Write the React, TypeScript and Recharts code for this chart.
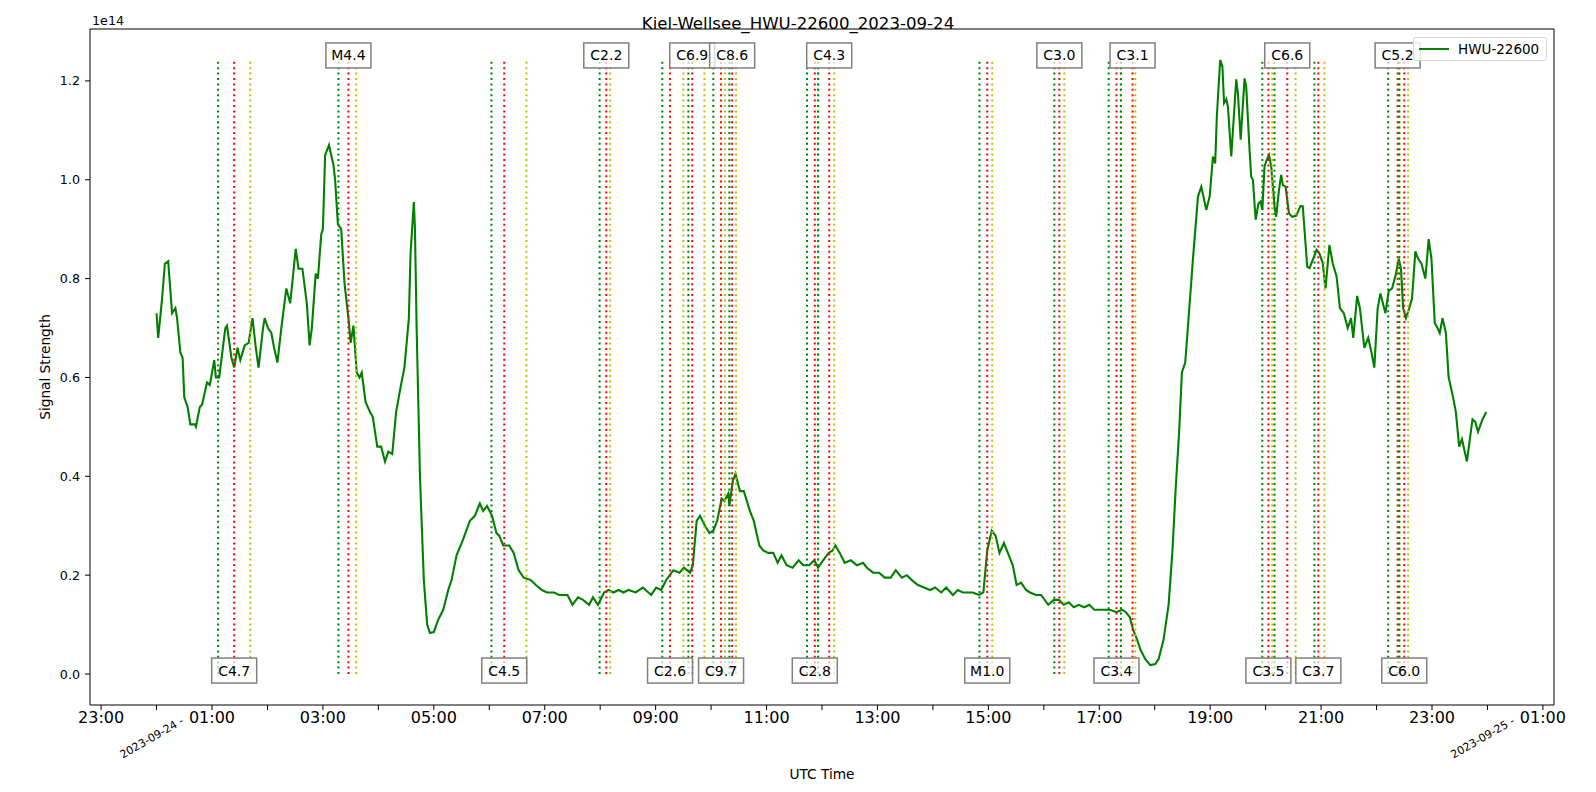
import React from 'react';
import { Legend, Line, LineChart, ReferenceDot, ReferenceLine, XAxis, YAxis } from 'recharts';

const FONT = '"DejaVu Sans", Verdana, sans-serif';
const CHART_W = 1596;
const CHART_H = 792;
const SCALE = 1e14;

// hours since 2023-09-24 00:00 UTC
const hours = [
  0.0, 0.03, 0.1, 0.15, 0.21, 0.28, 0.34, 0.37, 0.43, 0.47, 0.5, 0.56, 0.61, 0.69, 0.71, 0.78, 0.82, 0.91, 0.96,
  1.04, 1.07, 1.13, 1.24, 1.27, 1.35, 1.4, 1.46, 1.51, 1.59, 1.66, 1.73, 1.79, 1.84, 1.92, 1.95, 2.01, 2.07, 2.12,
  2.18, 2.25, 2.34, 2.41, 2.51, 2.56, 2.63, 2.71, 2.76, 2.8, 2.87, 2.91, 2.97, 3.0, 3.04, 3.11, 3.19, 3.22, 3.27,
  3.33, 3.39, 3.46, 3.5, 3.55, 3.61, 3.66, 3.7, 3.77, 3.85, 3.9, 3.98, 4.05, 4.12, 4.18, 4.25, 4.32, 4.4, 4.47,
  4.55, 4.58, 4.64, 4.66, 4.69, 4.75, 4.82, 4.88, 4.93, 5.0, 5.08, 5.17, 5.26, 5.32, 5.41, 5.52, 5.65, 5.74, 5.83,
  5.89, 5.96, 6.05, 6.13, 6.18, 6.25, 6.36, 6.44, 6.53, 6.62, 6.75, 6.84, 6.95, 7.04, 7.17, 7.26, 7.41, 7.5, 7.6,
  7.69, 7.8, 7.87, 7.96, 8.07, 8.15, 8.24, 8.33, 8.42, 8.51, 8.64, 8.77, 8.92, 9.01, 9.1, 9.19, 9.32, 9.43, 9.51,
  9.62, 9.67, 9.74, 9.8, 9.89, 9.97, 10.04, 10.11, 10.19, 10.24, 10.31, 10.33, 10.39, 10.44, 10.52, 10.59, 10.7,
  10.77, 10.87, 10.94, 11.03, 11.12, 11.2, 11.27, 11.36, 11.47, 11.58, 11.66, 11.77, 11.86, 11.93, 12.02, 12.12,
  12.19, 12.24, 12.32, 12.41, 12.52, 12.63, 12.74, 12.81, 12.92, 13.03, 13.13, 13.24, 13.33, 13.44, 13.53, 13.62,
  13.73, 13.84, 13.95, 14.04, 14.15, 14.24, 14.36, 14.45, 14.54, 14.72, 14.83, 14.91, 14.98, 15.06, 15.13, 15.2,
  15.28, 15.37, 15.44, 15.51, 15.59, 15.68, 15.75, 15.86, 15.95, 16.08, 16.18, 16.27, 16.36, 16.45, 16.54, 16.63,
  16.73, 16.82, 16.91, 17.0, 17.09, 17.19, 17.31, 17.41, 17.48, 17.55, 17.61, 17.68, 17.74, 17.83, 17.92, 18.01,
  18.07, 18.16, 18.25, 18.32, 18.38, 18.44, 18.49, 18.55, 18.65, 18.69, 18.78, 18.84, 18.93, 18.99, 19.05, 19.09,
  19.12, 19.18, 19.22, 19.25, 19.29, 19.32, 19.38, 19.47, 19.5, 19.55, 19.62, 19.65, 19.71, 19.74, 19.77, 19.82,
  19.87, 19.91, 19.94, 19.98, 20.02, 20.06, 20.1, 20.16, 20.19, 20.24, 20.28, 20.31, 20.36, 20.42, 20.48, 20.55,
  20.63, 20.67, 20.75, 20.79, 20.85, 20.92, 20.97, 21.03, 21.08, 21.15, 21.21, 21.28, 21.34, 21.41, 21.48, 21.54,
  21.58, 21.65, 21.7, 21.78, 21.85, 21.91, 21.96, 22.02, 22.07, 22.16, 22.22, 22.28, 22.35, 22.4, 22.44, 22.48,
  22.53, 22.59, 22.64, 22.7, 22.75, 22.81, 22.88, 22.94, 22.99, 23.05, 23.1, 23.14, 23.19, 23.25, 23.3, 23.38,
  23.43, 23.49, 23.54, 23.63, 23.73, 23.78, 23.83, 23.91, 23.98,
];

// signal strength in units of 1e14
const signal = [
  0.73, 0.68, 0.76, 0.83, 0.835, 0.73, 0.74, 0.72, 0.65, 0.64, 0.56, 0.54, 0.505, 0.505, 0.5, 0.54, 0.545, 0.59,
  0.585, 0.635, 0.6, 0.6, 0.7, 0.705, 0.64, 0.62, 0.66, 0.635, 0.665, 0.67, 0.72, 0.66, 0.62, 0.7, 0.72, 0.7, 0.69,
  0.66, 0.63, 0.7, 0.78, 0.75, 0.86, 0.82, 0.82, 0.75, 0.665, 0.7, 0.81, 0.8, 0.89, 0.9, 1.05, 1.07, 1.03, 1.0,
  0.91, 0.9, 0.79, 0.72, 0.67, 0.705, 0.61, 0.6, 0.61, 0.55, 0.53, 0.52, 0.46, 0.46, 0.43, 0.45, 0.445, 0.53, 0.58,
  0.62, 0.72, 0.85, 0.955, 0.9, 0.7, 0.4, 0.19, 0.1, 0.083, 0.085, 0.11, 0.13, 0.17, 0.19, 0.24, 0.27, 0.31, 0.32,
  0.345, 0.33, 0.34, 0.32, 0.285, 0.28, 0.26, 0.26, 0.245, 0.21, 0.195, 0.19, 0.18, 0.17, 0.165, 0.165, 0.16, 0.16,
  0.14, 0.155, 0.15, 0.14, 0.155, 0.14, 0.165, 0.17, 0.165, 0.17, 0.165, 0.17, 0.165, 0.175, 0.16, 0.175, 0.17,
  0.19, 0.21, 0.205, 0.215, 0.205, 0.22, 0.31, 0.32, 0.3, 0.285, 0.29, 0.31, 0.355, 0.35, 0.365, 0.34, 0.39, 0.405,
  0.37, 0.37, 0.33, 0.31, 0.26, 0.25, 0.245, 0.245, 0.225, 0.24, 0.22, 0.215, 0.23, 0.22, 0.22, 0.23, 0.215, 0.23,
  0.245, 0.25, 0.26, 0.245, 0.225, 0.23, 0.22, 0.225, 0.215, 0.205, 0.205, 0.195, 0.195, 0.21, 0.195, 0.2, 0.19,
  0.18, 0.175, 0.17, 0.175, 0.165, 0.175, 0.16, 0.17, 0.165, 0.165, 0.16, 0.165, 0.25, 0.29, 0.28, 0.245, 0.265,
  0.24, 0.22, 0.18, 0.185, 0.17, 0.165, 0.16, 0.16, 0.14, 0.15, 0.15, 0.14, 0.145, 0.135, 0.14, 0.135, 0.14, 0.13,
  0.13, 0.13, 0.13, 0.125, 0.13, 0.125, 0.115, 0.09, 0.07, 0.05, 0.03, 0.018, 0.02, 0.03, 0.07, 0.14, 0.25, 0.38,
  0.49, 0.61, 0.63, 0.78, 0.841, 0.966, 0.986, 0.939, 0.966, 1.047, 1.033, 1.128, 1.2424, 1.229, 1.155, 1.163,
  1.148, 1.047, 1.203, 1.175, 1.081, 1.205, 1.188, 1.06, 1.006, 1.0, 0.919, 0.952, 0.956, 0.939, 1.027, 1.04, 1.05,
  1.027, 0.946, 0.925, 0.979, 1.01, 0.989, 0.986, 0.932, 0.925, 0.927, 0.947, 0.946, 0.824, 0.821, 0.838, 0.858,
  0.851, 0.831, 0.78, 0.868, 0.831, 0.804, 0.74, 0.73, 0.7, 0.72, 0.68, 0.765, 0.74, 0.66, 0.68, 0.65, 0.62, 0.74,
  0.77, 0.73, 0.775, 0.78, 0.81, 0.84, 0.82, 0.74, 0.72, 0.74, 0.76, 0.855, 0.84, 0.83, 0.8, 0.88, 0.84, 0.71, 0.7,
  0.69, 0.72, 0.69, 0.6, 0.56, 0.53, 0.46, 0.475, 0.43, 0.515, 0.51, 0.49, 0.515, 0.53,
];

// solar flares: start (green), peak (red), end (yellow), hours UTC
const flareNames = [
  'C4.7', 'M4.4', 'C4.5', 'C2.2', 'C2.6', 'C6.9', 'C9.7', 'C8.6', 'C2.8', 'C4.3',
  'M1.0', 'C3.0', 'C3.4', 'C3.1', 'C3.5', 'C6.6', 'C3.7', 'C5.2', 'C6.0',
];
const flareStart = [
  1.11, 3.28, 6.04, 7.99, 9.12, 9.59, 10.04, 10.33, 11.73, 11.93,
  14.84, 16.19, 17.17, 17.39, 19.94, 20.16, 20.88, 22.21, 22.41,
];
const flarePeak = [
  1.4, 3.46, 6.27, 8.11, 9.26, 9.66, 10.18, 10.38, 11.87, 12.13,
  14.98, 16.28, 17.31, 17.6, 20.05, 20.39, 20.95, 22.38, 22.5,
];
const flareEnd = [
  1.69, 3.6, 6.67, 8.18, 9.5, 9.88, 10.25, 10.45, 11.93, 12.22,
  15.07, 16.37, 17.39, 17.65, 20.12, 20.54, 21.06, 22.41, 22.57,
];
// label rows (units of 1e14): even flares at the bottom, odd at the top
const labelLow = 0.007;
const labelHigh = 1.2515;

const yTicks = [0, 0.2, 0.4, 0.6, 0.8, 1.0, 1.2];
const xTicks = [-1, 0, 1, 2, 3, 4, 5, 6, 7, 8, 9, 10, 11, 12, 13, 14, 15, 16, 17, 18, 19, 20, 21, 22, 23, 24, 25];
const dateLabels: Record<number, string> = { 0: '2023-09-24 -', 24: '2023-09-25 -' };

const xDomain = [-1.2, 25.2];
const yDomain = [-0.0627 * SCALE, 1.305 * SCALE];

const data = hours.map((t, i) => ({ t, v: signal[i] * SCALE }));
const peakValue = Math.max(...signal) * SCALE;

function TimeTick(props: any) {
  const { x, y, payload } = props;
  const h = payload.value as number;
  if (dateLabels[h]) {
    // rotated date marker at midnight, right end tucked under the next hour label
    return (
      <g transform={`translate(${x + 28}, ${y + 11}) rotate(-30)`}>
        <text x={0} y={0} textAnchor="end" fontSize={11} fontFamily={FONT} fill="#000">
          {dateLabels[h]}
        </text>
      </g>
    );
  }
  if (Math.abs(h % 2) !== 1) return null;
  const hh = ((h % 24) + 24) % 24;
  return (
    <text x={x} y={y} dy="0.71em" textAnchor="middle" fontSize={16} fontFamily={FONT} fill="#000">
      {`${String(hh).padStart(2, '0')}:00`}
    </text>
  );
}

function FlareBox({ cx, cy, name }: { cx: number; cy: number; name: string }) {
  return (
    <g>
      <rect x={cx - 22.5} y={cy - 12.5} width={45} height={25} fill="#fff" fillOpacity={0.7} stroke="#808080" strokeWidth={1.5} />
      <text x={cx} y={cy} dy="0.36em" textAnchor="middle" fontSize={14} fontFamily={FONT} fill="#000">
        {name}
      </text>
    </g>
  );
}

function renderLegend() {
  return (
    <div
      style={{
        boxSizing: 'border-box',
        width: 134,
        height: 24,
        background: 'rgba(255,255,255,0.8)',
        border: '1px solid #d6d6d6',
        borderRadius: 3,
        display: 'flex',
        alignItems: 'center',
        fontFamily: FONT,
        fontSize: 13.5,
        color: '#000',
      }}
    >
      <svg width={40} height={22} style={{ marginLeft: 4 }}>
        <line x1={1} y1={11} x2={31} y2={11} stroke="#008000" strokeWidth={2} />
      </svg>
      <span>HWU-22600</span>
    </div>
  );
}

export default function App() {
  return (
    <div style={{ position: 'absolute', left: 0, top: 0, background: '#fff' }}>
      <LineChart width={CHART_W} height={CHART_H} data={data} margin={{ top: 28, right: 41, bottom: 0, left: 0 }}>
        <XAxis
          dataKey="t"
          type="number"
          domain={xDomain}
          allowDataOverflow
          ticks={xTicks}
          interval={0}
          height={87}
          tickSize={5}
          axisLine={{ stroke: '#000' }}
          tickLine={{ stroke: '#000' }}
          tick={(p: any) => <TimeTick {...p} />}
          label={{
            content: (p: any) => {
              const vb = p.viewBox;
              return (
                <text x={vb.x + vb.width / 2} y={vb.y + 74} textAnchor="middle" fontSize={13.7} fontFamily={FONT} fill="#000">
                  UTC Time
                </text>
              );
            },
          }}
        />
        <XAxis
          xAxisId="top"
          orientation="top"
          type="number"
          domain={xDomain}
          allowDataOverflow
          height={1}
          ticks={xTicks}
          tick={false}
          tickLine={false}
          axisLine={{ stroke: '#000' }}
          label={{
            content: (p: any) => {
              const vb = p.viewBox;
              return (
                <text x={vb.x + 2} y={vb.y - 3} fontSize={12.7} fontFamily={FONT} fill="#000">
                  1e14
                </text>
              );
            },
          }}
        />
        <YAxis
          type="number"
          domain={yDomain}
          allowDataOverflow
          ticks={yTicks.map((v) => v * SCALE)}
          interval={0}
          width={90}
          tickSize={5}
          tickMargin={5}
          axisLine={{ stroke: '#000' }}
          tickLine={{ stroke: '#000' }}
          tickFormatter={(v: number) => (v / SCALE).toFixed(1)}
          tick={{ fill: '#000', fontSize: 12.7, fontFamily: FONT }}
          label={{
            content: (p: any) => {
              const vb = p.viewBox;
              const cx = vb.x + vb.width / 2 + 5;
              const cy = vb.y + vb.height / 2;
              return (
                <text x={cx} y={cy} textAnchor="middle" fontSize={13.7} fontFamily={FONT} fill="#000" transform={`rotate(-90, ${cx}, ${cy})`}>
                  Signal Strength
                </text>
              );
            },
          }}
        />
        <YAxis
          yAxisId="right"
          orientation="right"
          type="number"
          domain={yDomain}
          allowDataOverflow
          ticks={yTicks.map((v) => v * SCALE)}
          width={1}
          tick={false}
          tickLine={false}
          axisLine={{ stroke: '#000' }}
          label={{
            content: (p: any) => {
              const vb = p.viewBox;
              return (
                <text x={CHART_W / 2} y={vb.y - 0.5} textAnchor="middle" fontSize={16.6} fontFamily={FONT} fill="#000">
                  Kiel-Wellsee_HWU-22600_2023-09-24
                </text>
              );
            },
          }}
        />
        <Legend
          layout="horizontal"
          verticalAlign="middle"
          align="center"
          wrapperStyle={{ position: 'absolute', left: 1413, top: 37, width: 134, height: 24 }}
          content={renderLegend}
        />
        <Line
          type="linear"
          dataKey="v"
          name="HWU-22600"
          stroke="#008000"
          strokeWidth={2.1}
          dot={false}
          activeDot={false}
          isAnimationActive={false}
        />
        {flareNames.map((name, i) =>
          [
            { x: flareStart[i], color: '#008000' },
            { x: flarePeak[i], color: '#ff0000' },
            { x: flareEnd[i], color: '#bfbf00' },
          ].map((l, j) => (
            <ReferenceLine
              key={`${name}-${j}`}
              segment={[
                { x: l.x, y: 0 },
                { x: l.x, y: peakValue },
              ]}
              stroke={l.color}
              strokeWidth={2}
              strokeDasharray="2 3.4"
            />
          ))
        )}
        {flareNames.map((name, i) => (
          <ReferenceDot
            key={`label-${name}`}
            x={flarePeak[i]}
            y={(i % 2 === 0 ? labelLow : labelHigh) * SCALE}
            r={0}
            shape={(p: any) => <FlareBox cx={p.cx} cy={p.cy} name={name} />}
          />
        ))}
      </LineChart>
    </div>
  );
}
